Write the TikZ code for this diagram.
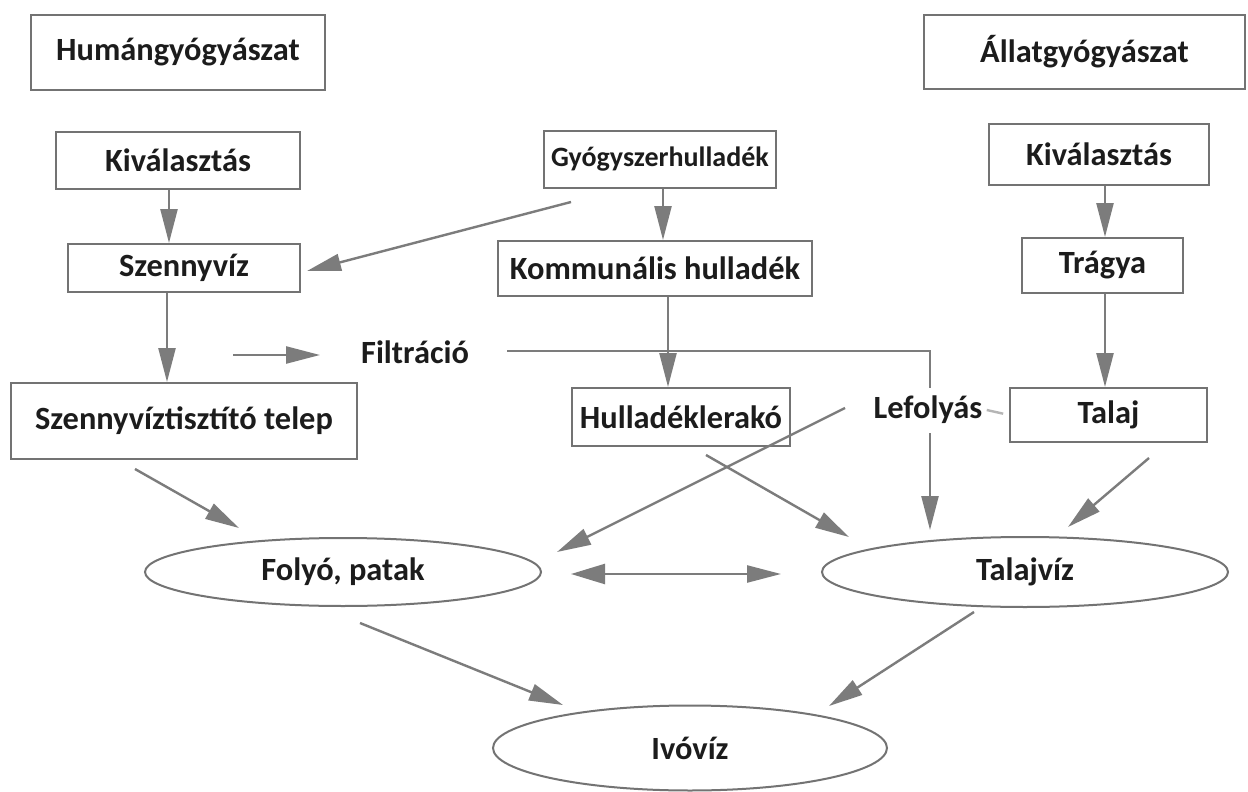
\documentclass[tikz,border=0pt]{standalone}
\usepackage{fontspec}
\setmainfont{Carlito}
\usetikzlibrary{shapes.geometric,arrows.meta}
\definecolor{linegray}{HTML}{7C7C7C}
\definecolor{boxgray}{HTML}{737373}
\definecolor{lightline}{HTML}{B5B5B5}
\definecolor{txt}{HTML}{1C1C1C}
\begin{document}
\begin{tikzpicture}[x=0.5pt,y=-0.5pt,
  every node/.style={font=\fontsize{16.2}{19}\selectfont\bfseries, text=txt, inner sep=0pt},
  box/.style={draw=boxgray, line width=1pt, rectangle},
  oval/.style={draw=boxgray, line width=1pt, ellipse},
  arr/.style={draw=linegray, line width=1.2pt, -{Triangle[length=17pt,width=8.5pt]}},
  darr/.style={draw=linegray, line width=1.2pt, {Triangle[length=17pt,width=10pt]}-{Triangle[length=17pt,width=8.5pt]}},
  plain/.style={draw=linegray, line width=1.2pt}
]
\useasboundingbox[fill=white] (0,0) rectangle (1248,792);

% boxes
\node[box, minimum width=147pt, minimum height=37.5pt] (hum) at (178,52.5) {Humángyógyászat};
\node[box, minimum width=160.5pt, minimum height=37pt] (allat) at (1084.5,52) {Állatgyógyászat};
\node[box, minimum width=122pt, minimum height=28.5pt] (kiv1) at (178,160.5) {Kiválasztás};
\node[box, minimum width=116pt, minimum height=28.5pt, font=\fontsize{14}{16}\selectfont\bfseries] (gyogy) at (660,159.5) {Gyógyszerhulladék};
\node[box, minimum width=110pt, minimum height=30.5pt] (kiv2) at (1099,154.5) {Kiválasztás};
\node[box, minimum width=116pt, minimum height=24pt] (szenny) at (184,268) {Szennyvíz};
\node[box, minimum width=157pt, minimum height=27.5pt] (komm) at (655,268.5) {Kommunális hulladék};
\node[box, minimum width=80.5pt, minimum height=27.5pt] (tragya) at (1102.5,265.5) {Trágya};
\node[box, minimum width=173pt, minimum height=38pt] (telep) at (184,421) {Szennyvíztisztító telep};
\node[box, minimum width=109pt, minimum height=29pt] (hull) at (681,417) {Hulladéklerakó};
\node[box, minimum width=98.5pt, minimum height=27pt] (talaj) at (1108.5,415) {Talaj};

% ellipses
\node[oval, minimum width=198pt, minimum height=34pt] (folyo) at (343,572) {Folyó, patak};
\node[oval, minimum width=203pt, minimum height=35pt] (talajviz) at (1025,572) {Talajvíz};
\node[oval, minimum width=197pt, minimum height=42.5pt] (ivoviz) at (690,748) {Ivóvíz};

% free labels
\node (filtr) at (415,352) {Filtráció};

% connector ends
\coordinate (gstart) at (571,202);
\coordinate (fa0) at (233,355);
\coordinate (fa1) at (320,355);
\coordinate (f1) at (507,351);
\coordinate (fend) at (930,530);
\coordinate (lstart) at (845,408);
\coordinate (lend) at (557,552);
\coordinate (h0) at (706,455);
\coordinate (h1) at (849,537);
\coordinate (t0) at (1149,458);
\coordinate (t1) at (1068,527);
\coordinate (s0) at (135,469);
\coordinate (s1) at (239,528);
\coordinate (d0) at (571,574);
\coordinate (d1) at (781,574);
\coordinate (i0) at (360,623);
\coordinate (i1) at (563,705);
\coordinate (j0) at (974,612);
\coordinate (j1) at (829,706);

% connectors
\draw[arr] (kiv1.south -| 169,0) -- (szenny.north -| 169,0);
\draw[arr] (szenny.south -| 167,0) -- (telep.north -| 167,0);
\draw[arr] (gstart) -- ([xshift=3pt,yshift=-1.5pt]szenny.east);
\draw[arr] (gyogy.south -| 663,0) -- (komm.north -| 663,0);
\draw[arr] (komm.south -| 668,0) -- (hull.north -| 668,0);
\draw[arr] (kiv2.south -| 1105,0) -- (tragya.north -| 1105,0);
\draw[arr] (tragya.south -| 1105,0) -- (talaj.north -| 1105,0);
\draw[arr] (fa0) -- (fa1);
\draw[arr] (f1) -| (fend);
\node[fill=white, minimum height=22.5pt, inner xsep=2pt] (lef) at (928,410) {Lefolyás};
\draw[draw=lightline, line width=1.2pt, shorten >=3pt] (lef.east) -- (talaj.west);
\draw[arr] (lstart) -- (lend);
\draw[arr] (h0) -- (h1);
\draw[arr] (t0) -- (t1);
\draw[arr] (s0) -- (s1);
\draw[darr] (d0) -- (d1);
\draw[arr] (i0) -- (i1);
\draw[arr] (j0) -- (j1);
\end{tikzpicture}
\end{document}
